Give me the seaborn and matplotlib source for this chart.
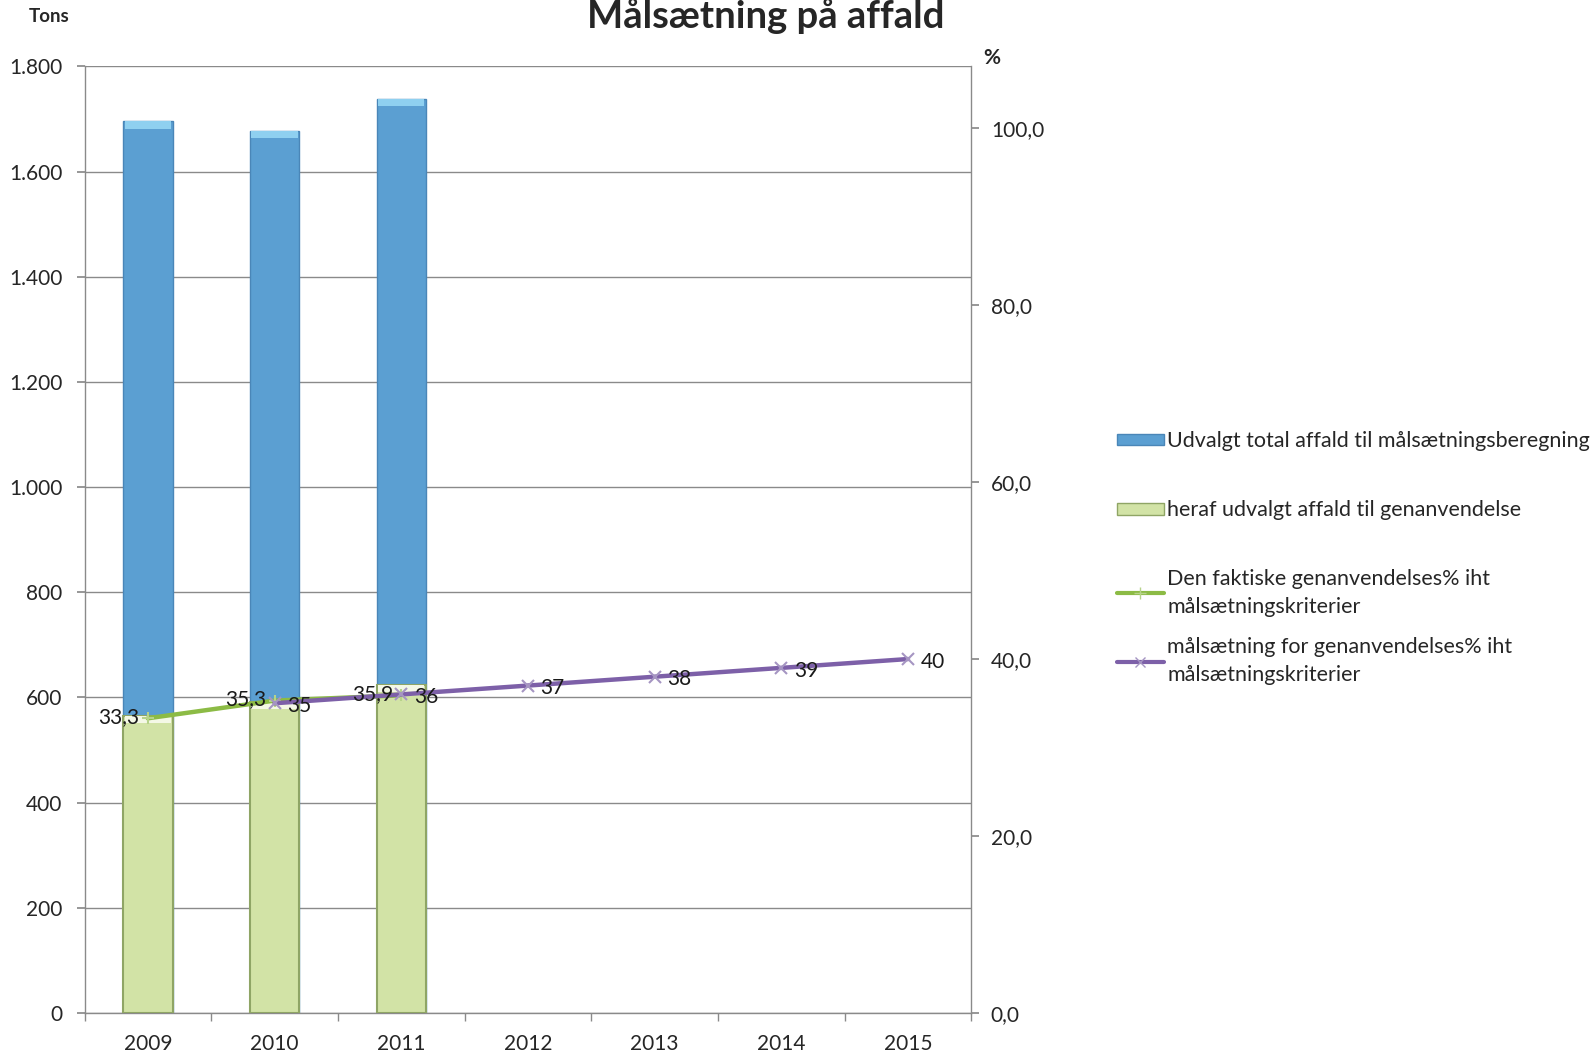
import matplotlib
matplotlib.use("Agg")
import matplotlib.pyplot as plt
import matplotlib.ticker as mticker
from matplotlib.lines import Line2D
from matplotlib.patches import Patch, Rectangle
import numpy as np
import pandas as pd
import seaborn as sns

# Data
years = ["2009", "2010", "2011", "2012", "2013", "2014", "2015"]
bar_years = ["2009", "2010", "2011"]
total_tons = [1696, 1677, 1738]
recycled_tons = [565, 592, 624]
actual_years = ["2009", "2010", "2011"]
actual_pct = [33.3, 35.3, 35.9]
target_years = ["2010", "2011", "2012", "2013", "2014", "2015"]
target_pct = [35, 36, 37, 38, 39, 40]

bar_labels = [
    "Udvalgt total affald til målsætningsberegning",
    "heraf udvalgt affald til genanvendelse",
]
line_labels = [
    "Den faktiske genanvendelses% iht\nmålsætningskriterier",
    "målsætning for genanvendelses% iht\nmålsætningskriterier",
]

sns.set_theme(style="white")
plt.rcParams["font.family"] = ["Lato", "DejaVu Sans"]

BLUE = "#5b9fd2"
BLUE_EDGE = "#4a86b8"
BLUE_CAP = "#8fd0f0"
GREEN_FILL = "#d2e3a6"
GREEN_EDGE = "#8fa565"
GREEN_CAP = "#f4f8e6"
GREEN_LINE = "#8cbb45"
PURPLE = "#7d60a8"
GRID = "#8a8a8a"

fig = plt.figure(figsize=(15.95, 10.55), dpi=100)
ax = fig.add_axes([0.053, 0.040, 0.556, 0.897])

df_total = pd.DataFrame({"year": bar_years, "tons": total_tons})
df_rec = pd.DataFrame({"year": bar_years, "tons": recycled_tons})

sns.barplot(data=df_total, x="year", y="tons", order=years, color=BLUE,
            width=0.39, saturation=1, edgecolor=BLUE_EDGE, linewidth=1.0,
            ax=ax, zorder=2)
n_blue = len(ax.patches)
sns.barplot(data=df_rec, x="year", y="tons", order=years, color=GREEN_FILL,
            width=0.39, saturation=1, edgecolor=GREEN_EDGE, linewidth=1.5,
            ax=ax, zorder=3)

ax.set_ylim(0, 1800)
ax.set_xlim(-0.5, len(years) - 0.5)

# light bevel band along the top of each bar
cap = 14
bars = list(ax.patches)
for i, p in enumerate(bars):
    h = p.get_height()
    if not np.isfinite(h) or h <= 0:
        continue
    col = BLUE_CAP if i < n_blue else GREEN_CAP
    z = 2.5 if i < n_blue else 3.5
    ax.add_patch(Rectangle((p.get_x() + 0.012, h - cap), p.get_width() - 0.024, cap,
                           facecolor=col, edgecolor="none", zorder=z))

ax.set_yticks(np.arange(0, 1801, 200))
ax.yaxis.set_major_formatter(mticker.FuncFormatter(
    lambda v, p: f"{int(v):,}".replace(",", ".")))
ax.grid(axis="y", color=GRID, linewidth=1.0, zorder=0)
ax.set_axisbelow(True)
ax.set_xlabel("")
ax.set_ylabel("")
ax.spines["top"].set_visible(False)
for s in ["left", "right", "bottom"]:
    ax.spines[s].set_color(GRID)
    ax.spines[s].set_linewidth(1.0)

# category boundary ticks on the x axis
ax.set_xticks(np.arange(len(years)))
ax.set_xticklabels(years, fontsize=15)
ax.xaxis.set_minor_locator(mticker.FixedLocator(np.arange(-0.5, len(years), 1.0)))
ax.tick_params(axis="x", which="major", length=0, pad=15)
ax.tick_params(axis="x", which="minor", length=6, color=GRID, direction="out", bottom=True)
ax.tick_params(axis="y", length=6, color=GRID, direction="out", labelsize=15, pad=10, left=True)

# percentage axis
ax2 = ax.twinx()
ax2.set_ylim(0, 107)
ax2.set_yticks(np.arange(0, 101, 20))
ax2.yaxis.set_major_formatter(mticker.FuncFormatter(lambda v, p: f"{v:.1f}".replace(".", ",")))
ax2.tick_params(axis="y", length=6, color=GRID, direction="out", labelsize=15, pad=8, right=True)
for s in ax2.spines.values():
    s.set_visible(False)
ax2.grid(False)

xa = [years.index(y) for y in actual_years]
xt = [years.index(y) for y in target_years]
ax2.plot(xa, actual_pct, color=GREEN_LINE, linewidth=3.2, marker="+",
         markersize=9, markeredgecolor="#b7d38a", markeredgewidth=1.5, zorder=5)
ax2.plot(xt, target_pct, color=PURPLE, linewidth=3.2, marker="x",
         markersize=8, markeredgecolor="#a595c2", markeredgewidth=1.5, zorder=6)

for x, v in zip(xa, actual_pct):
    ax2.annotate(f"{v:.1f}".replace(".", ","), (x, v), xytext=(-6, 1),
                 textcoords="offset points", ha="right", va="center",
                 fontsize=15, color="#1a1a1a", zorder=7)
for x, v in zip(xt, target_pct):
    ax2.annotate(f"{v:d}", (x, v), xytext=(9, -2),
                 textcoords="offset points", ha="left", va="center",
                 fontsize=15, color="#1a1a1a", zorder=7)

# titles and axis captions
fig.text(0.48, 0.973, "Målsætning på affald", ha="center", va="baseline",
         fontsize=27.5, fontweight="bold")
fig.text(0.031, 0.979, "Tons", ha="center", va="baseline", fontsize=13.5, fontweight="bold")
fig.text(0.622, 0.939, "%", ha="center", va="baseline", fontsize=15, fontweight="bold")

bar_handles = [
    Patch(facecolor=BLUE, edgecolor=BLUE_EDGE),
    Patch(facecolor=GREEN_FILL, edgecolor=GREEN_EDGE),
]
line_handles = [
    Line2D([], [], color=GREEN_LINE, linewidth=3, marker="+", markersize=8,
           markeredgecolor="#b7d38a"),
    Line2D([], [], color=PURPLE, linewidth=3, marker="x", markersize=7,
           markeredgecolor="#a595c2"),
]
leg1 = fig.legend(bar_handles, bar_labels, loc="upper left", bbox_to_anchor=(0.700, 0.5915),
                  frameon=False, fontsize=15.5, handlelength=2.2, handleheight=0.45,
                  handletextpad=0.15, labelspacing=2.3, borderaxespad=0, borderpad=0)
leg2 = fig.legend(line_handles, line_labels, loc="upper left", bbox_to_anchor=(0.700, 0.461),
                  frameon=False, fontsize=15.5, handlelength=2.2,
                  handletextpad=0.15, labelspacing=0.95, borderaxespad=0, borderpad=0)
for t in leg2.get_texts():
    t.set_linespacing(1.5)

fig.savefig("out.png", dpi=100, facecolor="white")
